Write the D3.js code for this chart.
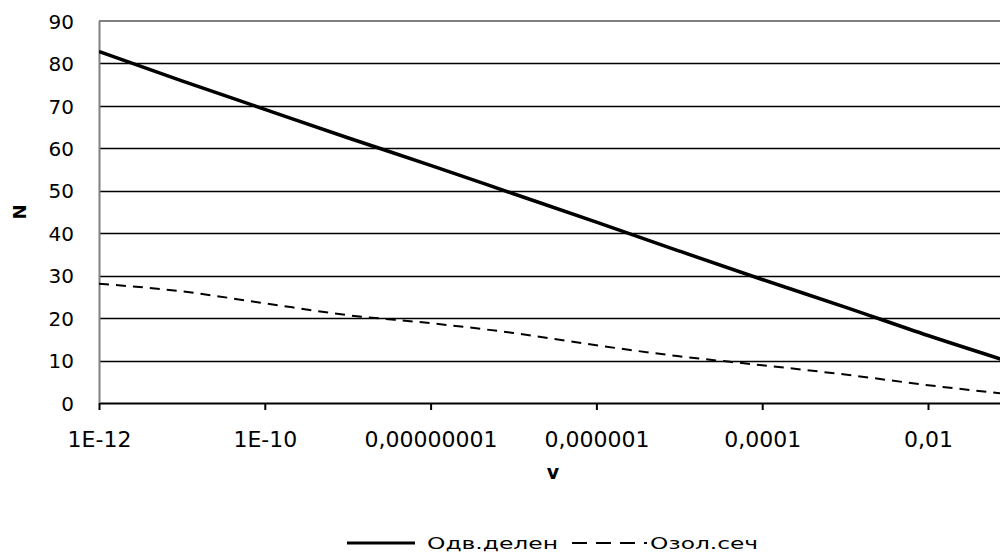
<!DOCTYPE html>
<html>
<head>
<meta charset="utf-8">
<script src="https://cdn.jsdelivr.net/npm/d3@7"></script>
<style>
  html, body { margin: 0; padding: 0; background: #fff; }
  svg { display: block; }
  text { font-family: "DejaVu Sans", sans-serif; fill: #000; }
</style>
</head>
<body>
<svg id="chart" width="1000" height="556"></svg>
<script>
// ---- data ----
const vValues = [1e-12, 1e-11, 1e-10, 1e-9, 1e-8, 1e-7, 1e-6, 1e-5, 1e-4, 1e-3, 1e-2, 1e-1];
const odvDelen = [82.8, 75.9, 69.2, 62.5, 56.0, 49.3, 42.6, 35.8, 29.1, 22.6, 15.9, 9.6];
const ozolSech = [28.1, 26.3, 23.5, 20.7, 18.8, 16.5, 13.6, 11.0, 8.9, 6.7, 4.2, 2.0];
const xTickValues = [1e-12, 1e-10, 1e-8, 1e-6, 1e-4, 1e-2];
const xTickLabels = ["1E-12", "1E-10", "0,00000001", "0,000001", "0,0001", "0,01"];
const yTickValues = [0, 10, 20, 30, 40, 50, 60, 70, 80, 90];
const seriesNames = ["Одв.делен", "Озол.сеч"];
const xTitle = "v";
const yTitle = "N";

(function () {
// ---- layout ----
const svg = d3.select("#chart");
const pLeft = 99, pTop = 21, pBottom = 403;
const perDecade = 82.9;
const x = d3.scaleLog().domain([1e-12, 1e-1]).range([pLeft, pLeft + 11 * perDecade]);
const y = d3.scaleLinear().domain([0, 90]).range([pBottom, pTop]);

svg.append("rect").attr("width", 1000).attr("height", 556).attr("fill", "#fff");

// gridlines
svg.append("g").selectAll("line")
  .data(yTickValues.filter(v => v > 0 && v < 90))
  .join("line")
  .attr("x1", pLeft).attr("x2", 1000)
  .attr("y1", d => Math.round(y(d)) + 0.5).attr("y2", d => Math.round(y(d)) + 0.5)
  .attr("stroke", "#000").attr("stroke-width", 1.6);

// top border (gray)
svg.append("line")
  .attr("x1", pLeft).attr("x2", 1000)
  .attr("y1", y(90)).attr("y2", y(90))
  .attr("stroke", "#808080").attr("stroke-width", 2);

// x axis
const xAxis = d3.axisBottom(x)
  .tickValues(xTickValues)
  .tickFormat((d, i) => xTickLabels[i])
  .tickSize(7).tickSizeOuter(0);
const gx = svg.append("g").attr("transform", `translate(0,${pBottom})`).call(xAxis);
gx.select(".domain").attr("d", `M${pLeft},0.5H1000`).attr("stroke", "#000").attr("stroke-width", 2);
gx.selectAll(".tick line").attr("stroke", "#000").attr("stroke-width", 2);
gx.selectAll(".tick text")
  .attr("y", 44).attr("dy", 0)
  .style("font-family", "'DejaVu Sans', sans-serif")
  .style("font-size", "22px").attr("fill", "#000");

// y axis
const yAxis = d3.axisLeft(y).tickValues(yTickValues).tickSize(0).tickPadding(25);
const gy = svg.append("g").attr("transform", `translate(${pLeft},0)`).call(yAxis);
gy.select(".domain").attr("d", `M0.5,${pTop}V${pBottom}`).attr("stroke", "#808080").attr("stroke-width", 2);
gy.selectAll(".tick text")
  .attr("dy", "0.36em")
  .style("font-family", "'DejaVu Sans', sans-serif")
  .style("font-size", "20px").attr("fill", "#000");

// lines
svg.append("clipPath").attr("id", "plotclip")
  .append("rect").attr("x", pLeft).attr("y", 0).attr("width", 1000 - pLeft).attr("height", pBottom + 2);

const line = d3.line()
  .x((d, i) => x(vValues[i]))
  .y(d => y(d))
  .curve(d3.curveMonotoneX);

const plot = svg.append("g").attr("clip-path", "url(#plotclip)");
plot.append("path").datum(ozolSech)
  .attr("d", line).attr("fill", "none")
  .attr("stroke", "#000").attr("stroke-width", 2)
  .attr("stroke-dasharray", "10,7");
plot.append("path").datum(odvDelen)
  .attr("d", line).attr("fill", "none")
  .attr("stroke", "#000").attr("stroke-width", 3.5);

// axis titles
svg.append("text")
  .attr("x", 553).attr("y", 479)
  .attr("text-anchor", "middle")
  .style("font-size", "19px").style("font-weight", "bold")
  .text(xTitle);
svg.append("text")
  .attr("transform", "translate(26,212) rotate(-90)")
  .attr("text-anchor", "middle")
  .style("font-size", "18px").style("font-weight", "bold")
  .text(yTitle);

// legend
const lg = svg.append("g");
lg.append("line").attr("x1", 347).attr("x2", 415).attr("y1", 543).attr("y2", 543)
  .attr("stroke", "#000").attr("stroke-width", 3);
lg.append("text").attr("x", 427).attr("y", 549)
  .style("font-size", "16px")
  .attr("textLength", 131).attr("lengthAdjust", "spacingAndGlyphs")
  .text(seriesNames[0]);
lg.append("line").attr("x1", 572).attr("x2", 647).attr("y1", 543).attr("y2", 543)
  .attr("stroke", "#000").attr("stroke-width", 2)
  .attr("stroke-dasharray", "15,9");
lg.append("text").attr("x", 650).attr("y", 549)
  .style("font-size", "16px")
  .attr("textLength", 108).attr("lengthAdjust", "spacingAndGlyphs")
  .text(seriesNames[1]);
})();
</script>
</body>
</html>
